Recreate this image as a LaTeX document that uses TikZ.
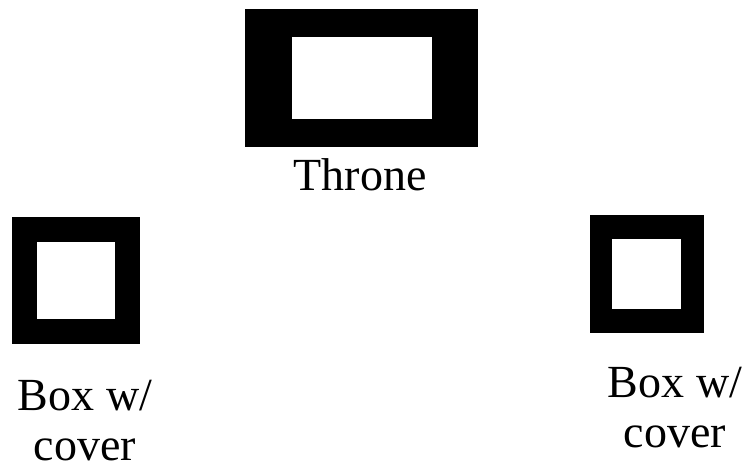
\documentclass[tikz,border=0pt]{standalone}
\usepackage{fontspec}
\setmainfont{Liberation Serif}
\usepackage{tikz}

\begin{document}
\begin{tikzpicture}[x=1pt, y=1pt,
    frame/.style={fill=black, inner sep=0pt},
    hole/.style={fill=white, inner sep=0pt},
    label/.style={font=\fontsize{46}{50}\selectfont, align=center, inner sep=0pt, anchor=base}]
    \useasboundingbox (0,0) rectangle (749,475);

    % trono
    \node[frame, minimum width=233, minimum height=138] (throne) at (361.5,397) {};
    \node[hole, minimum width=140, minimum height=82] (throneIn) at (362,397) {};
    \node[label] (throneTxt) at (360,285) {Throne};

    % caixa esquerda
    \node[frame, minimum width=128, minimum height=127] (boxL) at (76,194.5) {};
    \node[hole, minimum width=78, minimum height=77] (boxLIn) at (76,194.5) {};
    \node[label] (boxLTxt) at (85,15) {Box w/\\cover};

    % caixa direita
    \node[frame, minimum width=114, minimum height=118] (boxR) at (647,201) {};
    \node[hole, minimum width=69, minimum height=70] (boxRIn) at (646.5,201) {};
    \node[label] (boxRTxt) at (675,28) {Box w/\\cover};

\end{tikzpicture}
\end{document}
